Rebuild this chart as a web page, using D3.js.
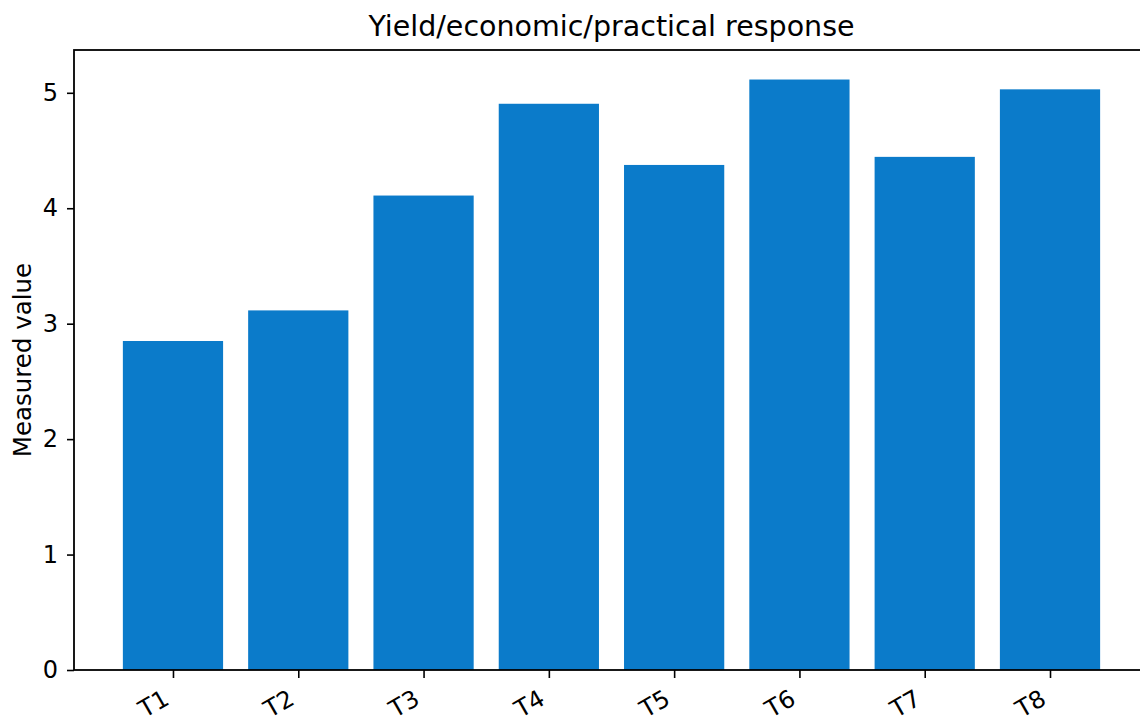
<!DOCTYPE html>
<html><head><meta charset="utf-8">
<script src="https://cdn.jsdelivr.net/npm/d3@7"></script>
<style>body{margin:0;background:#fff;overflow:hidden}svg{display:block}text{font-family:"DejaVu Sans",sans-serif}</style>
</head><body>
<script>
const categories = ["T1","T2","T3","T4","T5","T6","T7","T8"];
const values = [2.85, 3.115, 4.11, 4.905, 4.375, 5.115, 4.445, 5.03];
const yTicks = [0,1,2,3,4,5];
const title = "Yield/economic/practical response";
const yLabel = "Measured value";

const W = 1140, H = 721;
const m = {left:74, top:50, bottom:670};
const svg = d3.select("body").append("svg").attr("width",W).attr("height",H);

const step = 125.29;
const x = d3.scaleLinear().domain([-0.79, 7.79]).range([m.left, m.left + 8.58*step]);
const y = d3.scaleLinear().domain([0, d3.max(values)*1.05]).range([m.bottom, m.top]);

svg.append("g").selectAll("rect").data(values).join("rect")
  .attr("x",(d,i)=>x(i-0.4)).attr("width",(d,i)=>x(i+0.4)-x(i-0.4))
  .attr("y",d=>y(d)).attr("height",d=>y(0)-y(d))
  .attr("fill","#0b7bca");

const x1 = x(7.79);
svg.append("rect").attr("x",m.left).attr("y",m.top).attr("width",x1-m.left).attr("height",m.bottom-m.top)
  .attr("fill","none").attr("stroke","#000").attr("stroke-width",1.8);

const yAxis = svg.append("g").attr("transform",`translate(${m.left},0)`)
  .call(d3.axisLeft(y).tickValues(yTicks).tickFormat(d3.format("d")).tickSize(7).tickPadding(9));
yAxis.select(".domain").remove();
yAxis.selectAll("line").attr("stroke-width",1.6);
yAxis.selectAll("text").attr("font-size",24).attr("fill","#000").attr("font-family","DejaVu Sans");

const xAxis = svg.append("g").attr("transform",`translate(0,${m.bottom})`)
  .call(d3.axisBottom(x).tickValues(d3.range(categories.length)).tickFormat(i=>categories[i]).tickSize(8).tickPadding(6));
xAxis.select(".domain").remove();
xAxis.selectAll("line").attr("stroke-width",1.6);
xAxis.selectAll("text").attr("font-size",24).attr("fill","#000").attr("font-family","DejaVu Sans")
  .attr("text-anchor","end").attr("x",0).attr("y",0).attr("dy","0.35em")
  .attr("transform","translate(-7,26) rotate(-30)");

svg.append("text").attr("x",(m.left+x1)/2 - 0).attr("y",36).attr("text-anchor","middle")
  .attr("font-size",28.5).text(title);
svg.append("text").attr("transform",`translate(31,${(m.top+m.bottom)/2}) rotate(-90)`)
  .attr("text-anchor","middle").attr("font-size",24.5).text(yLabel);
</script>
</body></html>
